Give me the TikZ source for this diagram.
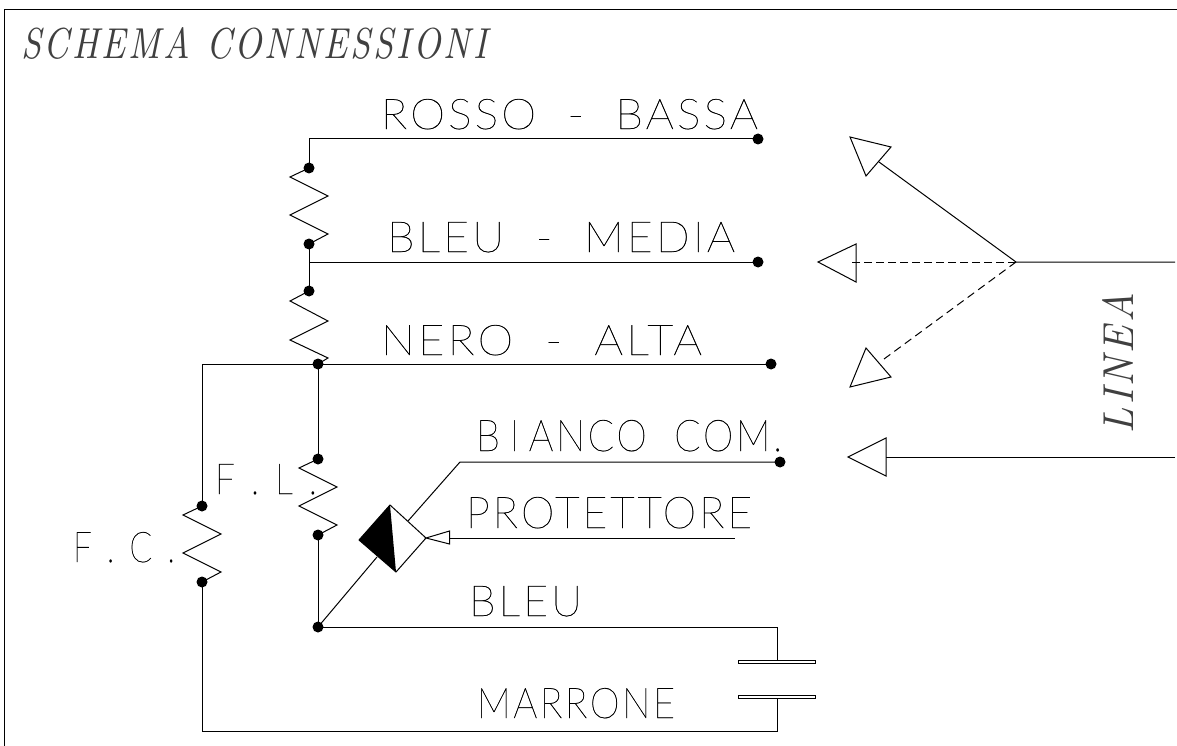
\documentclass[tikz,border=0pt]{standalone}
\usepackage{graphicx}
\usepackage{fontspec}
\newfontfamily\cadfont[LetterSpace=7,FakeBold=0.7]{Lato Hairline}
\newfontfamily\titfont[LetterSpace=8]{Latin Modern Roman}
\tikzset{
  wire/.style={line width=1pt,line join=miter},
  dot/.style={circle,fill=black,minimum size=11pt,inner sep=0pt,outer sep=0pt},
  lab/.style={inner sep=0pt,outer sep=0pt,anchor=north west,black},
}
\newcommand{\cad}[6]{\node[lab] (#1) at (#2,#3) {\resizebox{#4pt}{#5pt}{\cadfont #6}};}
\newcommand{\gap}{\hspace{.45em}}
\begin{document}
\begin{tikzpicture}[x=1pt,y=-1pt]
\useasboundingbox (0,0) rectangle (1177,746);
\fill[white] (0,0) rectangle (1177,746);
\draw[wire] (4,746) -- (4,10) -- (1177,10);
% title
\node[lab,text=black!75] (title) at (21,27) {\resizebox{466pt}{31pt}{\titfont\itshape SCHEMA\ CONNESSIONI}};
\node[inner sep=0pt,outer sep=0pt,text=black!75] (linea) at (1117.5,363) {\rotatebox{90}{\resizebox{140pt}{31pt}{\titfont\itshape LINEA}}};
% labels
\cad{rosso}{381}{99}{377}{30}{ROSSO\ \ -\ \ BASSA}
\cad{bleum}{387}{222}{348}{30}{BLEU\ \ -\ \ MEDIA}
\cad{nero}{381}{325}{321}{30}{NERO\ \ -\ \ ALTA}
\cad{bianco}{476}{420}{306}{31}{B\hspace{.25em}I\hspace{.25em}ANCO\ \ COM.}
\cad{prot}{466}{497}{286}{31}{PROTETTORE}
\cad{bleub}{469}{586}{113}{30}{BLEU}
\cad{marrone}{477}{688}{198}{30}{MARRONE}
\cad{fc}{73}{532}{102}{30}{F\gap.\gap C\gap.}
\cad{fl}{215}{464}{102}{30}{F\gap.\gap L\gap.}
% dots
\node[dot] (r1) at (758,139) {};
\node[dot] (m1) at (758,262) {};
\node[dot] (n1) at (771,364) {};
\node[dot] (b1) at (780,462) {};
\node[dot] (ra) at (309,168) {};
\node[dot] (rb) at (309,244) {};
\node[dot] (sa) at (309,291) {};
\node[dot] (jn) at (318,364) {};
\node[dot] (fla) at (318,459) {};
\node[dot] (flb) at (318,535) {};
\node[dot] (jb) at (318,627) {};
\node[dot] (fca) at (202,506) {};
\node[dot] (fcb) at (202,582) {};
\coordinate (rtop) at (309,139);
\coordinate (mleft) at (309,262);
\coordinate (nleft) at (202,364);
\coordinate (cap1) at (777,660);
\coordinate (cap2) at (777,698);
\coordinate (blr) at (777,627);
\coordinate (mbr) at (777,731);
\coordinate (mbl) at (202,731);
% horizontal wires and verticals
\draw[wire] (r1.center) -- (rtop) -- (ra.center);
\draw[wire] (rb.center) -- (sa.center);
\draw[wire] (mleft) -- (m1.center);
\draw[wire] (fca.center) -- (nleft) -- (n1.center);
\draw[wire] (jn.center) -- (fla.center);
\draw[wire] (flb.center) -- (jb.center) -- (blr) -- (cap1);
\draw[wire] (fcb.center) -- (mbl) -- (mbr) -- (cap2);
% resistors
\draw[wire] (ra.center) -- ++(-19,9) -- ++(38,19) -- ++(-38,19) -- ++(38,19) -- (rb.center);
\draw[wire] (sa.center) -- ++(-19,10) -- ++(38,20) -- ++(-38,19) -- ++(38,18) -- (jn.center);
\draw[wire] (fla.center) -- ++(-19,9) -- ++(38,19) -- ++(-38,19) -- ++(38,19) -- (flb.center);
\draw[wire] (fca.center) -- ++(-19,9) -- ++(38,19) -- ++(-38,19) -- ++(38,19) -- (fcb.center);
% capacitors
\draw[line width=.9pt] (738,660) rectangle (815,663);
\draw[line width=.9pt] (738,695) rectangle (815,698);
% protector diamond
\coordinate (dl) at (359,540);
\coordinate (dt) at (390,505);
\coordinate (dr) at (426,538);
\coordinate (db) at (396,572);
\fill[black] (dl) -- (dt) -- (db) -- cycle;
\draw[wire] (dl) -- (dt) -- (dr) -- (db) -- cycle;
\coordinate (dw1) at (377,557);
\coordinate (dw2) at (408,521);
\coordinate (bk) at (460,462);
\draw[wire] (jb.center) -- (dw1);
\draw[wire] (dw2) -- (bk) -- (b1.center);
\coordinate (pe) at (735,538);
\coordinate (pb) at (449.5,538);
\draw[wire] (dr) -- (449.5,531) -- (449.5,544) -- cycle;
\draw[wire] (pb) -- (pe);
% line fork
\coordinate (fork) at (1016,262);
\coordinate (lend) at (1175,262);
\coordinate (l2end) at (1175,457);
\coordinate (a1) at (879,162);
\coordinate (a2) at (850,262);
\coordinate (a3) at (884,359);
\coordinate (a4) at (886,457);
\draw[wire] (lend) -- (fork) -- (a1);
\draw[wire,dash pattern=on 8pt off 4pt] (fork) -- (a2);
\draw[wire,dash pattern=on 8pt off 5pt] (fork) -- (a3);
\draw[wire] (l2end) -- (a4);
\draw[wire] (850,137) -- (891,147) -- (866,176) -- cycle;
\draw[wire] (818,262) -- (856,244) -- (856,282) -- cycle;
\draw[wire] (866,348) -- (891,377) -- (850,387) -- cycle;
\draw[wire] (848,457) -- (886,438) -- (886,476) -- cycle;
\end{tikzpicture}
\end{document}
